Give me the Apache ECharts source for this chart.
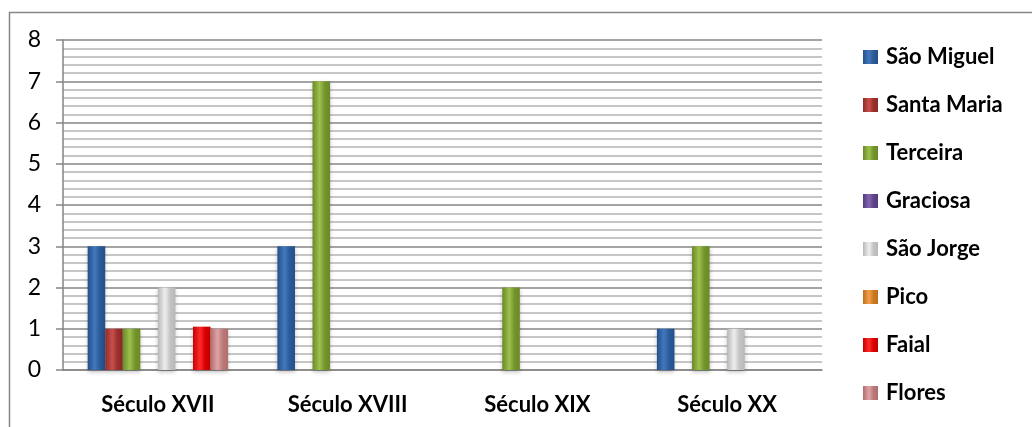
<!DOCTYPE html>
<html>
<head>
<meta charset="utf-8">
<script src="https://cdn.jsdelivr.net/npm/echarts@6/dist/echarts.min.js"></script>
<style>html,body{margin:0;padding:0;background:#fff}#c{width:1032px;height:427px}</style>
</head>
<body>
<div id="c"></div>
<script>
var categories = ['Século XVII', 'Século XVIII', 'Século XIX', 'Século XX'];
var seriesNames = ['São Miguel', 'Santa Maria', 'Terceira', 'Graciosa', 'São Jorge', 'Pico', 'Faial', 'Flores'];
var saoMiguel = [3, 3, 0, 1];
var santaMaria = [1, 0, 0, 0];
var terceira = [1, 7, 2, 3];
var graciosa = [0, 0, 0, 0];
var saoJorge = [2, 0, 0, 1];
var pico = [0, 0, 0, 0];
var faial = [1.05, 0, 0, 0];
var flores = [1, 0, 0, 0];
var yTicks = [0, 1, 2, 3, 4, 5, 6, 7, 8];

var values = [saoMiguel, santaMaria, terceira, graciosa, saoJorge, pico, faial, flores];
var palette = [
  ['#23508c', '#4377bd', '#2a5a98'],
  ['#8e2b28', '#c9504b', '#9a302d'],
  ['#6a8a26', '#9dc04e', '#73942b'],
  ['#553b7e', '#8466b0', '#5d4287'],
  ['#b8b8b8', '#eeeeee', '#c4c4c4'],
  ['#c06f1c', '#f3a04a', '#cc7a22'],
  ['#c80000', '#ff2a2a', '#d80000'],
  ['#b06e6e', '#dfa3a3', '#bb7878']
];
function grad(p) {
  return new echarts.graphic.LinearGradient(0, 0, 1, 0, [
    {offset: 0, color: p[0]}, {offset: 0.4, color: p[1]}, {offset: 0.7, color: p[2]}, {offset: 1, color: p[0]}
  ]);
}
var FONT = 'Lato';
var series = seriesNames.map(function (n, i) {
  return {
    name: n, type: 'bar', data: values[i].map(function (v) { return v === 0 ? null : v; }),
    barGap: '0%', barCategoryGap: '26%',
    itemStyle: {color: grad(palette[i]), shadowColor: 'rgba(0,0,0,0.25)', shadowBlur: 4, shadowOffsetY: 2},
    emphasis: {disabled: true}
  };
});
var chart = echarts.init(document.getElementById('c'));
chart.setOption({
  animation: false,
  graphic: [{type: 'rect', shape: {x: 9.5, y: 12.5, width: 1030, height: 420}, style: {fill: 'none', stroke: '#868686', lineWidth: 1.5}, silent: true}],
  grid: {left: 63, right: 210, top: 40, bottom: 57},
  legend: {
    orient: 'vertical', left: 858, top: 41, itemWidth: 15, itemHeight: 14, itemGap: 26,
    icon: 'rect',
    textStyle: {fontFamily: FONT, fontWeight: 'bold', fontSize: 22, lineHeight: 22, color: '#000', padding: [0, 0, 0, 3]},
    data: seriesNames
  },
  xAxis: {
    type: 'category', data: categories,
    axisLine: {lineStyle: {color: '#868686', width: 1.5}},
    axisTick: {show: false},
    axisLabel: {fontFamily: FONT, fontWeight: 'bold', fontSize: 22, color: '#000', margin: 24}
  },
  yAxis: {
    type: 'value', min: 0, max: 8, interval: 1,
    axisLine: {show: true, lineStyle: {color: '#868686', width: 1.5}},
    axisTick: {show: true, length: 7, lineStyle: {color: '#868686', width: 1.5}},
    axisLabel: {fontFamily: FONT, fontSize: 23, color: '#000', margin: 22,
      formatter: function (v) { return yTicks.indexOf(v) >= 0 ? String(v) : ''; }},
    splitLine: {show: true, lineStyle: {color: '#868686', width: 1.5}},
    minorTick: {show: false, splitNumber: 5},
    minorSplitLine: {show: true, lineStyle: {color: '#b4b4b4', width: 1.5}}
  },
  series: series
});
</script>
</body>
</html>
